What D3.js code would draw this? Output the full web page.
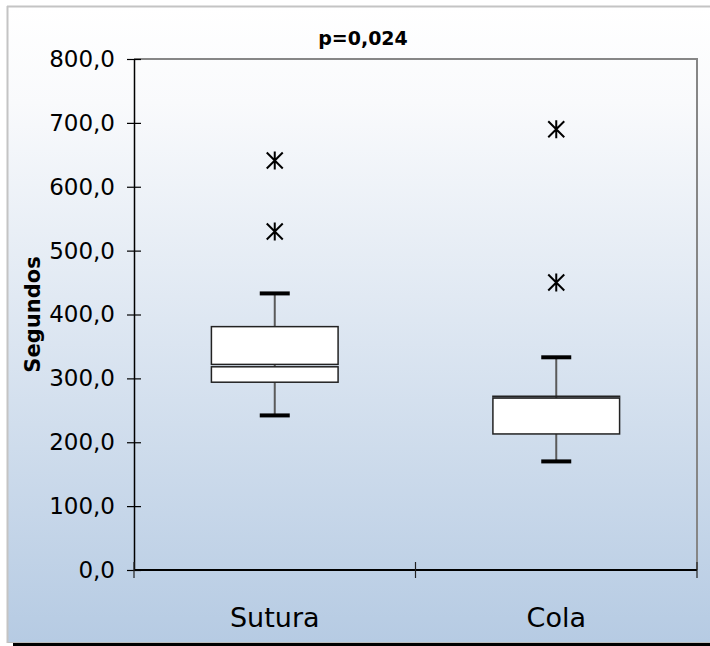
<!DOCTYPE html>
<html>
<head>
<meta charset="utf-8">
<script src="https://cdn.jsdelivr.net/npm/d3@7"></script>
<style>
  html, body { margin: 0; padding: 0; background: #ffffff; }
  svg { display: block; font-family: "DejaVu Sans", Verdana, sans-serif; }
</style>
</head>
<body>
<div id="chart"></div>
<script>
// Data
const categories = ['Sutura', 'Cola'];
const whiskerLow = [242, 170];
const q1 = [294, 213];
const median = [320, 271];
const q3 = [381, 272];
const whiskerHigh = [433, 333];
const outliers = [[641, 530], [690, 450]];
const yTicks = [0, 100, 200, 300, 400, 500, 600, 700, 800];
const title = 'p=0,024';
const yTitle = 'Segundos';

const width = 710, height = 646;
const margin = {top: 59, right: 13, bottom: 76, left: 134};

const svg = d3.select('#chart').append('svg')
    .attr('width', width)
    .attr('height', height);

// Background gradient
const defs = svg.append('defs');
const grad = defs.append('linearGradient')
    .attr('id', 'bg')
    .attr('x1', 0).attr('y1', 0).attr('x2', 0).attr('y2', 1);
grad.append('stop').attr('offset', '0%').attr('stop-color', '#ffffff');
grad.append('stop').attr('offset', '15%').attr('stop-color', '#f9fafc');
grad.append('stop').attr('offset', '100%').attr('stop-color', '#b6cbe3');

// Frame
svg.append('rect')
    .attr('x', 8).attr('y', 7)
    .attr('width', width).attr('height', 635)
    .attr('fill', 'url(#bg)');
svg.append('line')
    .attr('x1', 7.5).attr('x2', 7.5).attr('y1', 6).attr('y2', 643)
    .attr('stroke', '#c4c4c4').attr('stroke-width', 2);
svg.append('line')
    .attr('x1', 7).attr('x2', width).attr('y1', 6.5).attr('y2', 6.5)
    .attr('stroke', '#c4c4c4').attr('stroke-width', 2);
svg.append('line')
    .attr('x1', 8).attr('x2', width).attr('y1', 642.5).attr('y2', 642.5)
    .attr('stroke', '#bdbdbd').attr('stroke-width', 1);
svg.append('rect')
    .attr('x', 13).attr('y', 643)
    .attr('width', width).attr('height', 3)
    .attr('fill', '#000000');

// Scales
const x = d3.scaleBand()
    .domain(categories)
    .range([margin.left, width - margin.right]);

const y = d3.scaleLinear()
    .domain([0, 800])
    .range([height - margin.bottom, margin.top]);

const x0 = x.range()[0], x1 = x.range()[1];
const y0 = y(0), yTop = y(800);

// Plot border (top and right)
svg.append('path')
    .attr('d', `M${x0},${yTop}H${x1}V${y0}`)
    .attr('fill', 'none')
    .attr('stroke', '#868686')
    .attr('stroke-width', 2);

// Y axis: outer ticks with labels, plus inner tick stubs
const fmt = d => d.toFixed(1).replace('.', ',');
const yAxisG = svg.append('g')
    .attr('transform', `translate(${x0},0)`)
    .call(d3.axisLeft(y).tickValues(yTicks).tickFormat(fmt).tickSizeInner(7).tickSizeOuter(0).tickPadding(12));
yAxisG.select('.domain').attr('stroke', '#000').attr('stroke-width', 1.5);
yAxisG.selectAll('.tick line').attr('stroke', '#000').attr('stroke-width', 1.2);
yAxisG.selectAll('.tick text')
    .attr('font-size', 23)
    .attr('fill', '#000')
    .attr('font-family', '"DejaVu Sans", Verdana, sans-serif');
svg.append('g')
    .attr('transform', `translate(${x0},0)`)
    .call(d3.axisRight(y).tickValues(yTicks).tickFormat('').tickSizeInner(7).tickSizeOuter(0))
    .call(g => g.select('.domain').remove())
    .selectAll('.tick line').attr('stroke', '#000').attr('stroke-width', 1.2);

// X axis line with ticks at category boundaries
svg.append('line')
    .attr('x1', x0).attr('x2', x1)
    .attr('y1', y0).attr('y2', y0)
    .attr('stroke', '#000').attr('stroke-width', 2);
const bounds = categories.map(c => x(c)).concat([x1]);
svg.selectAll('.xtick')
    .data(bounds)
    .enter().append('line')
    .attr('class', 'xtick')
    .attr('x1', d => d).attr('x2', d => d)
    .attr('y1', y0 - 8).attr('y2', y0 + 8)
    .attr('stroke', '#222').attr('stroke-width', 1.2);

svg.selectAll('.xlabel')
    .data(categories)
    .enter().append('text')
    .attr('class', 'xlabel')
    .attr('x', d => x(d) + x.bandwidth() / 2)
    .attr('y', 627)
    .attr('text-anchor', 'middle')
    .attr('font-size', 27)
    .attr('fill', '#000')
    .text(d => d);

// Titles
svg.append('text')
    .attr('x', 363).attr('y', 45)
    .attr('text-anchor', 'middle')
    .attr('font-size', 19)
    .attr('font-weight', 'bold')
    .text(title);

svg.append('text')
    .attr('transform', `translate(40,${(y0 + yTop) / 2}) rotate(-90)`)
    .attr('text-anchor', 'middle')
    .attr('font-size', 21)
    .attr('font-weight', 'bold')
    .text(yTitle);

// Box plots
const boxW = x.bandwidth() * 0.45;
const capW = 30;
const boxes = svg.selectAll('.box')
    .data(categories)
    .enter().append('g')
    .attr('class', 'box')
    .attr('transform', d => `translate(${x(d) + x.bandwidth() / 2},0)`);

// whiskers
boxes.append('line')
    .attr('x1', 0).attr('x2', 0)
    .attr('y1', (d, i) => y(whiskerHigh[i]))
    .attr('y2', (d, i) => y(whiskerLow[i]))
    .attr('stroke', '#5a5a5a').attr('stroke-width', 2);

// caps
[whiskerLow, whiskerHigh].forEach(arr => {
    boxes.append('line')
        .attr('x1', -capW / 2).attr('x2', capW / 2)
        .attr('y1', (d, i) => y(arr[i]))
        .attr('y2', (d, i) => y(arr[i]))
        .attr('stroke', '#000').attr('stroke-width', 4);
});

// lower box (Q1 to median) and upper box (median to Q3)
boxes.append('rect')
    .attr('x', -boxW / 2).attr('width', boxW)
    .attr('y', (d, i) => y(median[i]) + 1.2)
    .attr('height', (d, i) => Math.max(0.5, y(q1[i]) - y(median[i]) - 1.2))
    .attr('fill', '#fff').attr('stroke', '#222').attr('stroke-width', 1.5);
boxes.append('rect')
    .attr('x', -boxW / 2).attr('width', boxW)
    .attr('y', (d, i) => y(q3[i]))
    .attr('height', (d, i) => Math.max(0.5, y(median[i]) - y(q3[i]) - 1.2))
    .attr('fill', '#fff').attr('stroke', '#222').attr('stroke-width', 1.5);

// outliers as asterisks
const s = 8;
boxes.each(function(d, i) {
    d3.select(this).selectAll('.out')
        .data(outliers[i])
        .enter().append('path')
        .attr('class', 'out')
        .attr('transform', v => `translate(0,${y(v)})`)
        .attr('d', `M${-s},${-s}L${s},${s}M${s},${-s}L${-s},${s}M0,${-s - 1}V${s + 1}`)
        .attr('stroke', '#000').attr('stroke-width', 2).attr('fill', 'none');
});
</script>
</body>
</html>
